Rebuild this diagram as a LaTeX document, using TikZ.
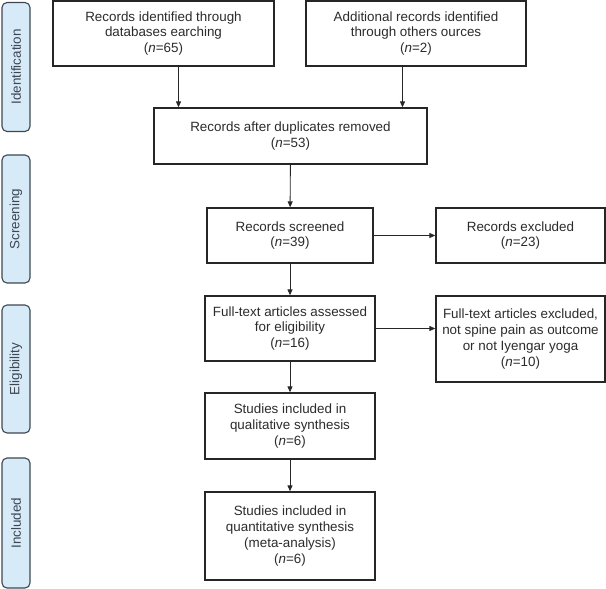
\documentclass[tikz,border=0pt]{standalone}
\usepackage{fontspec}
\setmainfont{Liberation Sans}
\usetikzlibrary{arrows.meta}
\usetikzlibrary{positioning}
\definecolor{barfill}{HTML}{D6EAF8}
\definecolor{barline}{HTML}{3E4650}
\definecolor{boxtext}{HTML}{2B2B2B}

\begin{document}
\begin{tikzpicture}[x=1pt,y=-1pt,
		box/.style={draw=black!85,line width=1.3pt,align=center,text=boxtext,inner sep=2pt,
			font=\fontsize{13.4}{15.7}\selectfont},
		phase/.style={draw=barline,fill=barfill,line width=1.1pt,rounded corners=5pt,rotate=90,
			minimum height=28pt,text=barline,font=\fontsize{13.4}{15}\selectfont},
		arr/.style={draw=black!85,line width=0.9pt,-{Triangle[length=6pt,width=5pt]}}]
		 	
		 	\useasboundingbox (0,0) rectangle (606,589);
		 	
		 	% phase bars
		 	\node[phase,minimum width=129pt] (pid) at (16,67) {Identification};
		 	\node[phase,minimum width=128pt] (psc) at (16,219) {Screening};
		 	\node[phase,minimum width=128pt] (pel) at (16,369) {Eligibility};
		 	\node[phase,minimum width=130pt] (pin) at (16,523) {Included};
		 	
		 	% boxes
		 	\node[box,minimum width=221pt,minimum height=65pt] (db) at (163.5,33.5) {Records identified through\\databases earching\\(\textit{n}=65)};
		 	\node[box,minimum width=220pt,minimum height=65pt] (other) at (416,33.5) {Additional records identified\\through others ources\\(\textit{n}=2)};
		 	\node[box,minimum width=273pt,minimum height=56pt] (dup) at (290.5,136) {Records after duplicates removed\\(\textit{n}=53)};
		 	\node[box,minimum width=166pt,minimum height=55pt] (scr) at (290,235.5) {Records screened\\(\textit{n}=39)};
		 	\node[box,minimum width=169pt,minimum height=55pt] (exc) at (520.5,235.5) {Records excluded\\(\textit{n}=23)};
		 	\node[box,minimum width=170pt,minimum height=65pt] (full) at (290,328.5) {Full-text articles assessed\\for eligibility\\(\textit{n}=16)};
		 	\node[box,minimum width=169pt,minimum height=86pt] (fexc) at (520.5,339) {Full-text articles excluded,\\not spine pain as outcome\\or not Iyengar yoga\\(\textit{n}=10)};
		 	\node[box,minimum width=170pt,minimum height=66pt] (qual) at (290,426) {Studies included in\\qualitative synthesis\\(\textit{n}=6)};
		 	\node[box,minimum width=170pt,minimum height=88pt] (quan) at (290,536) {Studies included in\\quantitative synthesis\\(meta-analysis)\\(\textit{n}=6)};
		 	
		 	% arrows
		 	\path ([xshift=-112pt]dup.north) coordinate (t1);
		 	\path ([xshift=112pt]dup.north) coordinate (t2);
		 	\draw[arr] (t1 |- db.south) -- (t1);
		 	\draw[arr] (t2 |- other.south) -- (t2);
		 	\draw[arr] (dup) -- (scr);
		 	\draw[arr] (scr) -- (exc);
		 	\draw[arr] (scr) -- (full);
		 	\draw[arr] (full) -- (fexc.west |- full);
		 	\draw[arr] (full) -- (qual);
		 	\draw[arr] (qual) -- (quan);
		 \end{tikzpicture}
\end{document}
